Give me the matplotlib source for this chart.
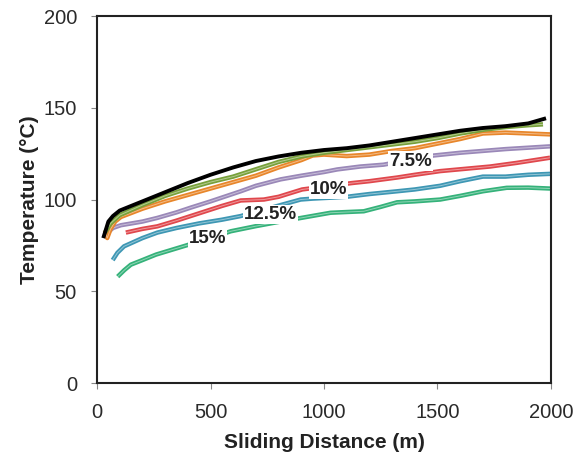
import matplotlib
matplotlib.use('Agg')
import matplotlib.pyplot as plt

plt.rcParams['font.family'] = ['Liberation Sans', 'DejaVu Sans']

# curves (distance m, temperature C)
black_x = [30, 40, 50, 70, 100, 150, 200, 300, 400, 500, 600, 700, 800, 900, 1000,
           1100, 1200, 1300, 1400, 1500, 1600, 1700, 1800, 1900, 1970]
black_y = [80, 84, 88, 91, 94, 96.5, 99, 104, 109, 113.5, 117.5, 121, 123.5, 125.5, 127,
           128, 129.5, 131.5, 133.5, 135.5, 137.5, 139, 140, 141.5, 144]
olive_x = [35, 60, 100, 200, 300, 400, 500, 600, 700, 800, 900, 1000, 1100, 1200,
           1300, 1400, 1500, 1600, 1700, 1800, 1900, 1965]
olive_y = [82, 87, 91.5, 97, 102, 106, 109.5, 112.5, 116.5, 120.5, 123.5, 125.5, 127, 128.5,
           130, 131.5, 133.5, 136, 138, 139.5, 140.5, 141]
orange_x = [35, 45, 60, 80, 105, 200, 300, 400, 500, 600, 700, 800, 900, 950, 1000,
            1100, 1200, 1300, 1400, 1500, 1600, 1700, 1800, 1900, 2000]
orange_y = [83, 79, 84, 88, 90.5, 95, 99, 102.5, 106, 109.5, 113, 117.5, 121.5, 124, 124.5,
            123.7, 124.5, 126.5, 128, 130.5, 133, 136, 136.5, 136, 135.5]
purple_x = [47, 70, 105, 200, 266, 350, 413, 500, 633, 700, 809, 900, 1000, 1058, 1160,
            1262, 1483, 1600, 1800, 1996]
purple_y = [82, 84.5, 86, 88, 90, 93, 95.6, 99, 104.5, 107.5, 111, 113, 115, 116.4, 118,
            119, 124, 125.5, 127.5, 129]
red_x = [127, 200, 266, 350, 450, 550, 633, 735, 800, 904, 1124, 1200, 1322, 1400,
         1512, 1600, 1732, 1850, 1996]
red_y = [82, 84, 85.4, 88.5, 92.5, 96.5, 99.5, 100, 101.5, 105.5, 109, 110, 112, 113.5,
         115.5, 116.5, 118, 120, 122.8]
blue_x = [69, 90, 119, 200, 266, 350, 450, 550, 633, 897, 950, 1029, 1100, 1200, 1322,
          1400, 1512, 1600, 1700, 1800, 1900, 1996]
blue_y = [67, 71, 74.5, 79, 82, 84.5, 87, 89, 91, 100, 100.5, 101, 101.5, 103, 104.5,
          105.5, 107.5, 110, 112.5, 112.5, 113.5, 114]
teal_x = [91, 120, 149, 200, 260, 420, 500, 589, 700, 809, 900, 1029, 1100, 1175, 1250,
          1322, 1400, 1512, 1600, 1700, 1805, 1900, 1996]
teal_y = [58, 61.5, 64.5, 67, 70, 76, 79, 82.7, 85.5, 88, 90, 92.8, 93.2, 93.6, 96,
          98.5, 99, 100, 102, 104.5, 106.4, 106.5, 106]

labels = ['7.5%', '10%', '12.5%', '15%']
label_x = [1380, 1020, 765, 487]
label_y = [121, 105.5, 92, 79]

series = [
    (teal_x, teal_y, '#35b27a'),
    (blue_x, blue_y, '#3e97b4'),
    (red_x, red_y, '#e0474c'),
    (purple_x, purple_y, '#9a88b8'),
    (orange_x, orange_y, '#e8862a'),
    (olive_x, olive_y, '#77a03a'),
]

fig = plt.figure(figsize=(5.88, 4.53), dpi=100)
ax = fig.add_axes([0.165, 0.1545, 0.772, 0.81])

for xs, ys, c in series:
    ax.plot(xs, ys, color=c, lw=3.2, solid_capstyle='butt', solid_joinstyle='round')
    ax.plot(xs, ys, color='white', lw=0.7, alpha=0.45)
ax.plot(black_x, black_y, color='black', lw=2.8, solid_joinstyle='round')

for t, x, y in zip(labels, label_x, label_y):
    ax.text(x, y, t, ha='center', va='center', fontsize=13.5, fontweight='bold',
            color='#222222',
            bbox=dict(facecolor='white', edgecolor='none', pad=0.8))

ax.set_xlim(0, 2000)
ax.set_ylim(0, 200)
ax.set_xticks([0, 500, 1000, 1500, 2000])
ax.set_yticks([0, 50, 100, 150, 200])
ax.tick_params(direction='out', length=4, color='#888888', labelsize=14.5,
               labelcolor='#2a2a2a', pad=10.5)
for s in ax.spines.values():
    s.set_linewidth(1.5)
    s.set_color('#222222')

ax.set_xlabel('Sliding Distance (m)', fontsize=15, fontweight='bold', color='#222222', labelpad=8)
ax.set_ylabel('Temperature (°C)', fontsize=15, fontweight='bold', color='#222222', labelpad=3)

fig.savefig('out.png', dpi=100)
